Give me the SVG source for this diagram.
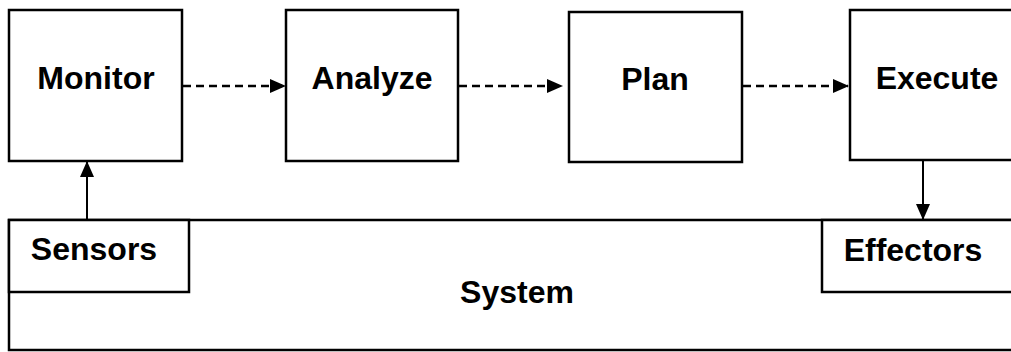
<svg xmlns="http://www.w3.org/2000/svg" width="1011" height="352" viewBox="0 0 1011 352">
<style>
.box{fill:#fff;stroke:#000;stroke-width:2.5}
.lbl{font-family:"Liberation Sans",Arial,sans-serif;font-weight:bold;font-size:32px;fill:#000;text-anchor:middle}
.dash{stroke:#000;stroke-width:2.5;stroke-dasharray:8,5;fill:none}
.solid{stroke:#000;stroke-width:2;fill:none}
</style>
<defs>
<marker id="ah" markerWidth="16" markerHeight="14" refX="15" refY="7" orient="auto" markerUnits="userSpaceOnUse">
<path d="M0,0 L16,7 L0,14 Z" fill="#000"/>
</marker>
</defs>
<rect width="1011" height="352" fill="#fff"/>
<g id="system"><rect class="box" x="9" y="220" width="1010" height="130"/><text class="lbl" x="517" y="303">System</text></g>
<g id="sensors"><rect class="box" x="9" y="220" width="180" height="72"/><text class="lbl" x="94" y="260">Sensors</text></g>
<g id="effectors"><rect class="box" x="822" y="220" width="200" height="72"/><text class="lbl" x="913" y="261">Effectors</text></g>
<g id="monitor"><rect class="box" x="9" y="10" width="173" height="151"/><text class="lbl" x="96" y="89">Monitor</text></g>
<g id="analyze"><rect class="box" x="286" y="10" width="172" height="151"/><text class="lbl" x="372" y="89">Analyze</text></g>
<g id="plan"><rect class="box" x="569" y="12" width="173" height="150"/><text class="lbl" x="655" y="90">Plan</text></g>
<g id="execute"><rect class="box" x="850" y="10" width="180" height="150"/><text class="lbl" x="937" y="89">Execute</text></g>
<g id="connectors">
<path class="dash" d="M183,86 H285" marker-end="url(#ah)"/>
<path class="dash" d="M459,86 H562" marker-end="url(#ah)"/>
<path class="dash" d="M743,86 H848" marker-end="url(#ah)"/>
<path class="solid" d="M87,220 V162" marker-end="url(#ah)"/>
<path class="solid" d="M923,161 V219" marker-end="url(#ah)"/>
</g>
</svg>
